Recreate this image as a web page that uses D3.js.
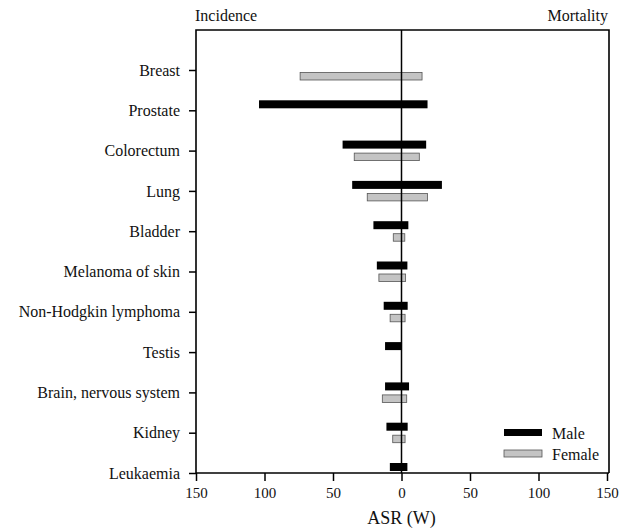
<!DOCTYPE html>
<html>
<head>
<meta charset="utf-8">
<script src="https://cdn.jsdelivr.net/npm/d3@7"></script>
<style>
  html, body { margin: 0; padding: 0; background: #fff; }
  svg { display: block; font-family: "Liberation Serif", "Times New Roman", serif; }
</style>
</head>
<body>
<svg id="chart" width="624" height="531"></svg>
<script>
// Cancer sites, top to bottom
const sites = ["Breast", "Prostate", "Colorectum", "Lung", "Bladder", "Melanoma of skin",
  "Non-Hodgkin lymphoma", "Testis", "Brain, nervous system", "Kidney", "Leukaemia"];

// Age-standardised rates (world), per 100,000; null = not applicable
const maleIncidence   = [null, 104, 43, 36, 20.5, 18, 13, 12, 12, 11, 8.5];
const maleMortality   = [null, 19, 18, 29.5, 5, 4.3, 4.5, 0.4, 5.5, 4.5, 4.3];
const femaleIncidence = [74, null, 34.5, 25, 6, 16.5, 8.3, null, 14, 6.4, null];
const femaleMortality = [15, null, 13, 19, 2.4, 3, 2.6, null, 3.8, 2.6, null];

const xTicks = [-150, -100, -50, 0, 50, 100, 150];

const svg = d3.select("#chart");
const plotLeft = 196, plotRight = 607, plotTop = 30, plotBottom = 473;

const x = d3.scaleLinear().domain([-150, 150]).range([plotLeft, plotRight]);
const y = d3.scalePoint().domain(sites).range([70, plotBottom]);

// bars: male above the category tick, female below
const rows = sites.map((s, i) => ({
  site: s,
  mi: maleIncidence[i], mm: maleMortality[i],
  fi: femaleIncidence[i], fm: femaleMortality[i]
}));

const bars = svg.append("g");
bars.selectAll("rect.male").data(rows.filter(d => d.mi != null))
  .join("rect").attr("class", "male")
  .attr("x", d => x(-d.mi))
  .attr("y", d => y(d.site) - 10)
  .attr("width", d => x(d.mm) - x(-d.mi))
  .attr("height", 8)
  .attr("fill", "#000");

bars.selectAll("rect.female").data(rows.filter(d => d.fi != null))
  .join("rect").attr("class", "female")
  .attr("x", d => x(-d.fi))
  .attr("y", d => y(d.site) + 2.5)
  .attr("width", d => x(d.fm) - x(-d.fi))
  .attr("height", 7.5)
  .attr("fill", "#c4c4c4")
  .attr("stroke", "#555")
  .attr("stroke-width", 0.8);

// frame
svg.append("path")
  .attr("d", `M${plotLeft},${plotBottom}V${plotTop}H${x(150) + 2}V${plotBottom}`)
  .attr("fill", "none").attr("stroke", "#000").attr("stroke-width", 1.6);

// zero line
svg.append("line")
  .attr("x1", x(0)).attr("x2", x(0)).attr("y1", plotTop).attr("y2", plotBottom)
  .attr("stroke", "#000").attr("stroke-width", 1.5);

// x axis
const xAxis = svg.append("g")
  .attr("transform", `translate(0,${plotBottom})`)
  .call(d3.axisBottom(x).tickValues(xTicks).tickFormat(d => Math.abs(d)).tickSize(8).tickPadding(6));
xAxis.select(".domain").attr("stroke-width", 1.6).attr("d", `M${plotLeft},0H${x(150) + 2}`);
xAxis.selectAll(".tick line").attr("stroke-width", 1.5);
xAxis.selectAll("text").attr("font-size", 15).attr("font-family", "Liberation Serif").attr("fill", "#111");

// y axis
const yAxis = svg.append("g")
  .attr("transform", `translate(${plotLeft},0)`)
  .call(d3.axisLeft(y).tickSize(7).tickPadding(9));
yAxis.select(".domain").remove();
yAxis.selectAll(".tick line").attr("stroke-width", 1.5);
yAxis.selectAll("text").attr("font-size", 16).attr("font-family", "Liberation Serif").attr("fill", "#111");

// headings
svg.append("text").attr("x", 195).attr("y", 21).attr("font-size", 16).attr("fill", "#111").text("Incidence");
svg.append("text").attr("x", 608).attr("y", 21).attr("text-anchor", "end").attr("font-size", 16).attr("fill", "#111").text("Mortality");

// axis title
svg.append("text").attr("x", x(0)).attr("y", 524).attr("text-anchor", "middle")
  .attr("font-size", 18).attr("fill", "#111").text("ASR (W)");

// legend
const legend = [
  { label: "Male", fill: "#000", stroke: "none" },
  { label: "Female", fill: "#c4c4c4", stroke: "#555" }
];
const lg = svg.append("g").attr("transform", "translate(504,429)");
lg.selectAll("rect").data(legend).join("rect")
  .attr("x", 0).attr("y", (d, i) => i * 21)
  .attr("width", 38).attr("height", 7)
  .attr("fill", d => d.fill).attr("stroke", d => d.stroke).attr("stroke-width", 0.8);
lg.selectAll("text").data(legend).join("text")
  .attr("x", 48).attr("y", (d, i) => i * 21 + 10)
  .attr("font-size", 16).attr("fill", "#111").text(d => d.label);
</script>
</body>
</html>
